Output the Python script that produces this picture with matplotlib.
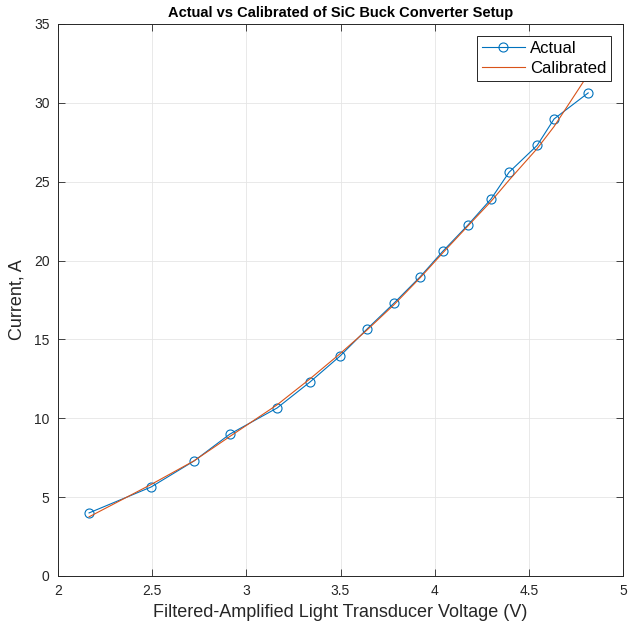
import numpy as np
import matplotlib
matplotlib.use('Agg')
import matplotlib.pyplot as plt

plt.rcParams['font.family'] = ['Liberation Sans', 'DejaVu Sans']

# light transducer voltage (V)
voltage = [2.165, 2.494, 2.722, 2.913, 3.163, 3.338, 3.498, 3.641, 3.784,
           3.922, 4.044, 4.177, 4.299, 4.395, 4.544, 4.634, 4.815]
# measured current (A)
actual = [4.0, 5.64, 7.29, 9.0, 10.65, 12.3, 13.95, 15.66, 17.3,
          18.96, 20.6, 22.26, 23.9, 25.6, 27.3, 28.98, 30.63]
# calibrated current (A)
calibrated = [3.75, 5.8, 7.3, 8.85, 10.85, 12.5, 14.1, 15.6, 17.2,
              18.9, 20.5, 22.2, 23.75, 25.1, 27.1, 28.5, 31.8]

fig = plt.figure(figsize=[6.36, 6.26], dpi=100)
ax = fig.add_axes([0.0912, 0.0799, 0.8884, 0.8818])

ax.plot(voltage, actual, '-o', color='#0072BD', lw=0.8, ms=6.5,
        mfc='none', mew=0.8, label='Actual')
ax.plot(voltage, calibrated, '-', color='#D95319', lw=0.8, label='Calibrated')

ax.set_xlim(2, 5)
ax.set_ylim(0, 35)
ax.set_xticks(np.arange(2, 5.01, 0.5))
ax.set_xticklabels(['2', '2.5', '3', '3.5', '4', '4.5', '5'])
ax.set_yticks(np.arange(0, 36, 5))
ax.grid(True, color='#e5e5e5', lw=0.6)
ax.set_axisbelow(True)
ax.tick_params(direction='in', top=True, right=True, labelsize=10,
               length=5, width=0.6, colors='#262626', pad=6)
for s in ax.spines.values():
    s.set_linewidth(0.7)
    s.set_color('#262626')

ax.set_title('Actual vs Calibrated of SiC Buck Converter Setup',
             fontsize=10.5, fontweight='bold', pad=5)
ax.set_xlabel('Filtered-Amplified Light Transducer Voltage (V)', fontsize=13,
              color='#262626', labelpad=4)
ax.set_ylabel('Current, A', fontsize=13, color='#262626', labelpad=6)

leg = ax.legend(loc='upper right', fontsize=12, fancybox=False,
                borderaxespad=0.7, handlelength=2.6, handletextpad=0.3,
                framealpha=1, edgecolor='#262626', borderpad=0.3,
                labelspacing=0.3)
leg.get_frame().set_linewidth(0.7)

fig.savefig('out.png', dpi=100)
